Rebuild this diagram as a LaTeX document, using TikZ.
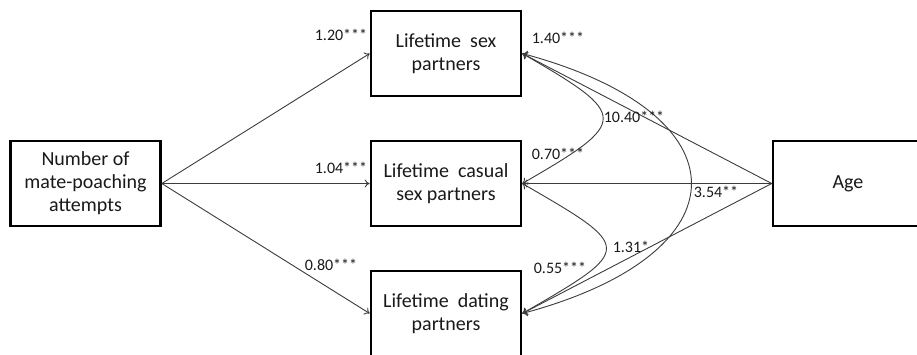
\documentclass[tikz,border=0pt]{standalone}
\usepackage{fontspec}
\setmainfont{Carlito}
\usepackage{color}
\usetikzlibrary{arrows.meta}

\definecolor{linegray}{RGB}{60,60,60}
\definecolor{textgray}{RGB}{25,25,25}

\begin{document}
\begin{tikzpicture}[x=1pt,y=1pt,
        var/.style={draw=black,line width=2.6pt,minimum width=150pt,minimum height=85pt,
            align=center,font=\fontsize{20}{23}\selectfont,text=textgray,inner sep=0pt},
        path/.style={draw=linegray,line width=0.9pt,-{To[length=5pt,width=8pt]}},
        cov/.style={draw=linegray,line width=0.9pt,{To[length=5pt,width=8pt]}-{To[length=5pt,width=8pt]}},
        coef/.style={font=\fontsize{16}{18}\selectfont,text=textgray,inner sep=0pt}]
            \clip (0,0) rectangle (917,354);
            % boxes (y counted up from the bottom edge)
            \node[var] (poach) at (85.5,170.5) {Number of\\mate-poaching\\attempts};
            \node[var] (sex) at (446,300.5) {Lifetime~ sex\\partners};
            \node[var] (casual) at (446,170.5) {Lifetime~ casual\\sex partners};
            \node[var] (dating) at (446,40.5) {Lifetime~ dating\\partners};
            \node[var] (age) at (848,170.5) {Age};
            % paths from mate poaching
            \draw[path] (poach.east) -- (sex.west);
            \draw[path] (poach.east) -- (casual.west);
            \draw[path] (poach.east) -- (dating.west);
            % paths from age
            \draw[path] (age.west) -- (sex.east);
            \draw[path] (age.west) -- (casual.east);
            \draw[path] (age.west) -- (dating.east);
            % residual covariances
            \draw[cov] (sex.east) to[out=-30,in=30,looseness=2.45] (casual.east);
            \draw[cov] (casual.east) to[out=-30,in=30,looseness=2.55] (dating.east);
            \draw[cov] (sex.east) to[out=-15,in=15,looseness=2.3] (dating.east);
            % coefficients
            \node[coef] (b1) at (341,319) {1.20***};
            \node[coef] (b2) at (341,186) {1.04***};
            \node[coef] (b3) at (331,89) {0.80***};
            \node[coef] (b4) at (558,316) {1.40***};
            \node[coef] (b5) at (634,237) {10.40***};
            \node[coef] (b6) at (558,200) {0.70***};
            \node[coef] (b7) at (716,162) {3.54**};
            \node[coef] (b8) at (631,107) {1.31*};
            \node[coef] (b9) at (560,86) {0.55***};
        \end{tikzpicture}
\end{document}
